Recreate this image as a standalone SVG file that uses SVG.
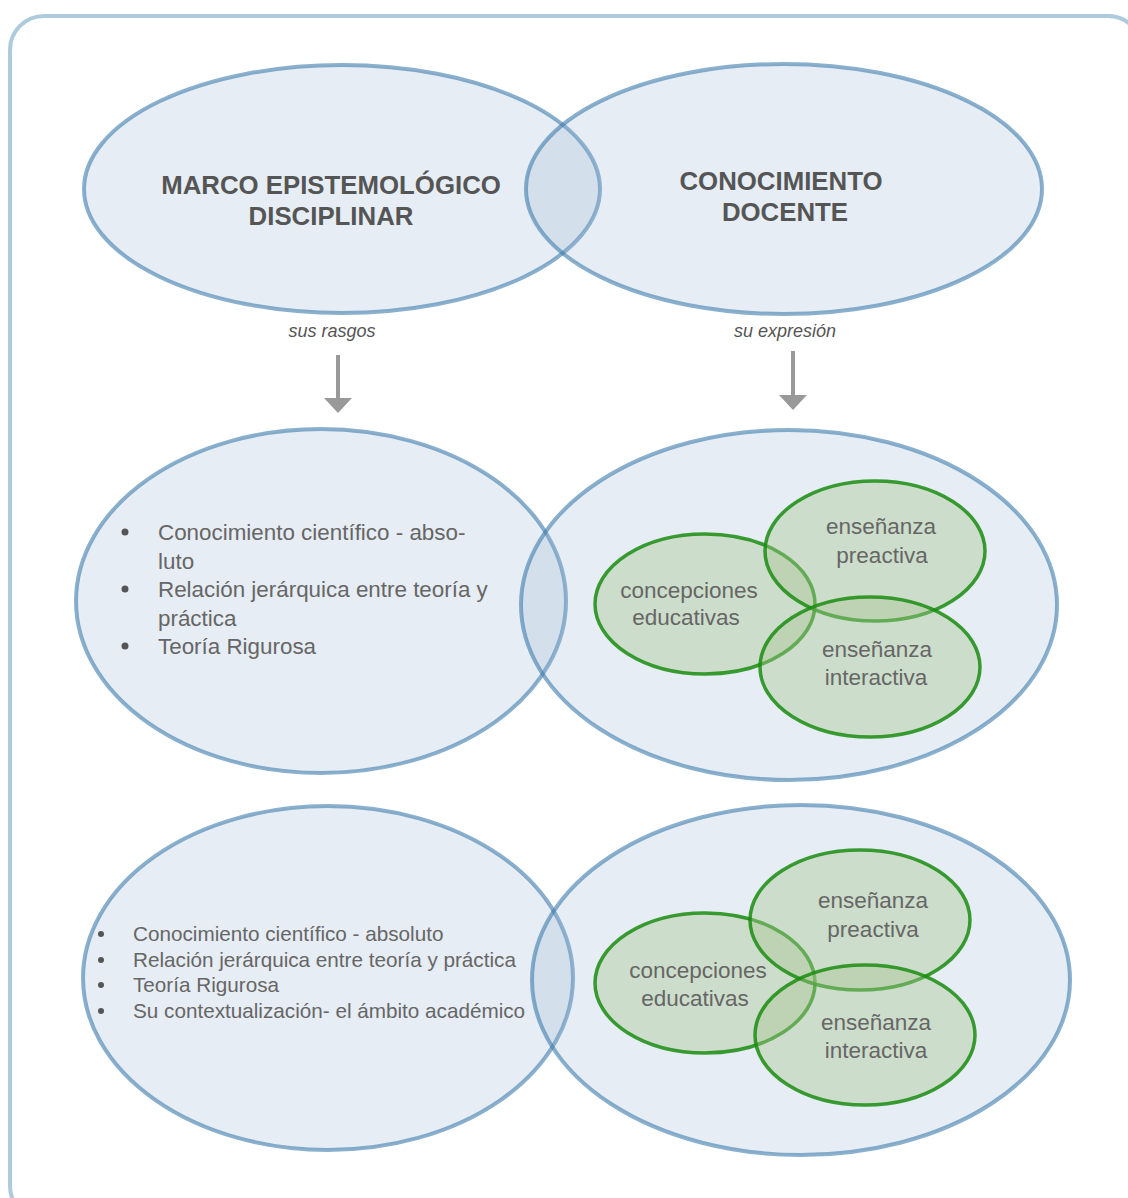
<svg xmlns="http://www.w3.org/2000/svg" width="1128" height="1198" viewBox="0 0 1128 1198">
  <defs>
    <style>
      .frame { fill: #ffffff; stroke: #aecadd; stroke-width: 4; }
      .big { fill: #97b4d1; fill-opacity: 0.24; stroke: #3d7cab; stroke-opacity: 0.6; stroke-width: 4; }
      .sub { fill: #a8c58e; fill-opacity: 0.4; stroke: #1a8c10; stroke-opacity: 0.85; stroke-width: 3.5; }
      .title { font-family: "Liberation Sans", Arial, sans-serif; font-weight: bold; font-size: 25.8px; fill: #555555; text-anchor: middle; }
      .label { font-family: "Liberation Sans", Arial, sans-serif; font-style: italic; font-size: 18px; fill: #555555; text-anchor: middle; }
      .item { font-family: "Liberation Sans", Arial, sans-serif; font-size: 22.4px; fill: #666666; }
      .item2 { font-family: "Liberation Sans", Arial, sans-serif; font-size: 20.7px; fill: #666666; }
      .sublabel { font-family: "Liberation Sans", Arial, sans-serif; font-size: 22.5px; fill: #666666; text-anchor: middle; }
      .dot { fill: #555555; }
      .arrow { stroke: #999999; stroke-width: 4; fill: none; marker-end: url(#head); }
    </style>
    <!-- downward arrowhead: 28 wide, 15 deep -->
    <marker id="head" markerUnits="userSpaceOnUse" markerWidth="15" markerHeight="28" viewBox="0 0 15 28" refX="0" refY="14" orient="auto">
      <path d="M0,0 L15,14 L0,28 Z" fill="#999999"/>
    </marker>
  </defs>

  <!-- outer frame -->
  <rect class="frame" x="10" y="16" width="1132" height="1204" rx="34" ry="34"/>

  <!-- top row -->
  <g id="marco-epistemologico">
    <ellipse class="big" cx="342" cy="189" rx="258" ry="124"/>
    <text class="title" x="331" y="194">MARCO EPISTEMOLÓGICO</text>
    <text class="title" x="331" y="225">DISCIPLINAR</text>
  </g>
  <g id="conocimiento-docente">
    <ellipse class="big" cx="784" cy="189" rx="258" ry="125"/>
    <text class="title" x="781" y="190">CONOCIMIENTO</text>
    <text class="title" x="785" y="221">DOCENTE</text>
  </g>

  <!-- connectors -->
  <g id="connectors">
    <text class="label" x="332" y="337">sus rasgos</text>
    <line class="arrow" x1="338" y1="355" x2="338" y2="398"/>
    <text class="label" x="785" y="337">su expresión</text>
    <line class="arrow" x1="793" y1="351" x2="793" y2="395"/>
  </g>

  <!-- middle row -->
  <g id="rasgos-1">
    <ellipse class="big" cx="321" cy="601" rx="245" ry="172"/>
    <circle class="dot" cx="125" cy="532" r="3.5"/>
    <circle class="dot" cx="125" cy="589" r="3.5"/>
    <circle class="dot" cx="125" cy="646" r="3.5"/>
    <text class="item" x="158" y="540">Conocimiento científico - abso-</text>
    <text class="item" x="158" y="569">luto</text>
    <text class="item" x="158" y="597">Relación jerárquica entre teoría y</text>
    <text class="item" x="158" y="626">práctica</text>
    <text class="item" x="158" y="654">Teoría Rigurosa</text>
  </g>
  <g id="expresion-1">
    <ellipse class="big" cx="789" cy="605" rx="268" ry="175"/>
  </g>
  <g id="concepciones-1">
    <ellipse class="sub" cx="705" cy="604" rx="110" ry="70"/>
    <text class="sublabel" x="689" y="598">concepciones</text>
    <text class="sublabel" x="686" y="625">educativas</text>
  </g>
  <g id="preactiva-1">
    <ellipse class="sub" cx="875" cy="551" rx="110" ry="70"/>
    <text class="sublabel" x="881" y="534">enseñanza</text>
    <text class="sublabel" x="882" y="563">preactiva</text>
  </g>
  <g id="interactiva-1">
    <ellipse class="sub" cx="870" cy="667" rx="110" ry="70"/>
    <text class="sublabel" x="877" y="657">enseñanza</text>
    <text class="sublabel" x="876" y="685">interactiva</text>
  </g>

  <!-- bottom row -->
  <g id="rasgos-2">
    <ellipse class="big" cx="328" cy="978" rx="245" ry="172"/>
    <circle class="dot" cx="101" cy="934" r="3"/>
    <circle class="dot" cx="101" cy="960" r="3"/>
    <circle class="dot" cx="101" cy="985" r="3"/>
    <circle class="dot" cx="101" cy="1011" r="3"/>
    <text class="item2" x="133" y="941">Conocimiento científico - absoluto</text>
    <text class="item2" x="133" y="967">Relación jerárquica entre teoría y práctica</text>
    <text class="item2" x="133" y="992">Teoría Rigurosa</text>
    <text class="item2" x="133" y="1018">Su contextualización- el ámbito académico</text>
  </g>
  <g id="expresion-2">
    <ellipse class="big" cx="801" cy="980" rx="269" ry="175"/>
  </g>
  <g id="concepciones-2">
    <ellipse class="sub" cx="705" cy="983" rx="110" ry="70"/>
    <text class="sublabel" x="698" y="978">concepciones</text>
    <text class="sublabel" x="695" y="1006">educativas</text>
  </g>
  <g id="preactiva-2">
    <ellipse class="sub" cx="860" cy="920" rx="110" ry="70"/>
    <text class="sublabel" x="873" y="908">enseñanza</text>
    <text class="sublabel" x="873" y="937">preactiva</text>
  </g>
  <g id="interactiva-2">
    <ellipse class="sub" cx="865" cy="1035" rx="110" ry="70"/>
    <text class="sublabel" x="876" y="1030">enseñanza</text>
    <text class="sublabel" x="876" y="1058">interactiva</text>
  </g>
</svg>
